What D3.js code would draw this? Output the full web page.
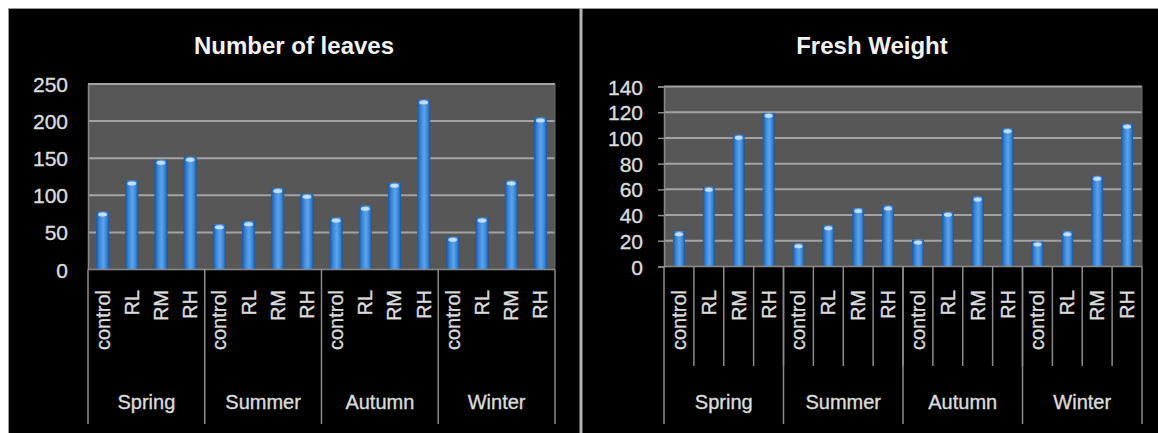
<!DOCTYPE html>
<html>
<head>
<meta charset="utf-8">
<script src="https://cdn.jsdelivr.net/npm/d3@7"></script>
<style>
  html, body { margin: 0; padding: 0; background: #fff; }
  svg { display: block; font-family: "Liberation Sans", Arial, sans-serif; }
</style>
</head>
<body>
<svg id="chart" width="1158" height="433"></svg>
<script>
// Categories: four seasons, four treatments each
const seasons = ["Spring", "Summer", "Autumn", "Winter"];
const treatments = ["control", "RL", "RM", "RH"];

// Number of leaves, in season order, treatment order within each season
const leavesValues = [78, 120, 148, 152, 61, 65, 110, 102, 70, 86, 117, 229, 44, 70, 120, 205];
const leavesTicks = [0, 50, 100, 150, 200, 250];

// Fresh weight, same ordering
const weightValues = [27.5, 62, 102.5, 119.5, 18, 32, 45.5, 47.5, 21, 42.5, 54.5, 107.5, 19.5, 27.5, 70.5, 111];
const weightTicks = [0, 20, 40, 60, 80, 100, 120, 140];

const svg = d3.select("#chart");
const labelColor = "#dcdcdc";

// Background panels
svg.append("rect").attr("x", 0).attr("y", 0).attr("width", 1158).attr("height", 433).attr("fill", "#fff");
svg.append("rect").attr("x", 8).attr("y", 8).attr("width", 1150).attr("height", 425).attr("fill", "#000");
svg.append("line").attr("x1", 8.5).attr("x2", 8.5).attr("y1", 8).attr("y2", 433).attr("stroke", "#9a9a9a");
svg.append("line").attr("x1", 8).attr("x2", 1158).attr("y1", 8.5).attr("y2", 8.5).attr("stroke", "#9a9a9a");
svg.append("line").attr("x1", 581).attr("x2", 581).attr("y1", 8).attr("y2", 433)
  .attr("stroke", "#b4b4b4").attr("stroke-width", 3);

// Cylinder-like shading for the columns
const defs = svg.append("defs");
const grad = defs.append("linearGradient").attr("id", "barGrad")
  .attr("x1", "0%").attr("x2", "100%").attr("y1", "0%").attr("y2", "0%");
[["0%", "#1c56a0"], ["30%", "#3f8ad9"], ["55%", "#5aa4ef"], ["80%", "#3a84d3"], ["100%", "#1b549c"]]
  .forEach(([o, c]) => grad.append("stop").attr("offset", o).attr("stop-color", c));

const categories = [];
seasons.forEach(s => treatments.forEach(t => categories.push(s + "|" + t)));

function styleLabel(sel, size) {
  sel.attr("fill", labelColor)
    .attr("stroke", labelColor).attr("stroke-width", 0.35)
    .attr("font-size", size)
    .attr("font-family", "'Liberation Sans', Arial, sans-serif");
}

function drawChart(opts) {
  const { title, titleX, values, ticks, left, right, top, bottom, barRatio, yTickSize, catTicks } = opts;
  const g = svg.append("g");

  const x = d3.scaleBand().domain(categories).range([left, right]).padding(0);
  const y = d3.scaleLinear().domain([ticks[0], ticks[ticks.length - 1]]).range([bottom, top]);

  // Title
  g.append("text")
    .attr("x", titleX).attr("y", 54)
    .attr("text-anchor", "middle")
    .attr("fill", "#f2f2f2")
    .attr("font-size", 24).attr("font-weight", "bold")
    .text(title);

  // Plot area
  g.append("rect")
    .attr("x", left).attr("y", top)
    .attr("width", right - left).attr("height", bottom - top)
    .attr("fill", "#575757");

  // Gridlines
  g.append("g").selectAll("line").data(ticks.slice(1)).join("line")
    .attr("x1", left).attr("x2", right)
    .attr("y1", d => y(d)).attr("y2", d => y(d))
    .attr("stroke", "#a3a3a3").attr("stroke-width", 2);

  // Right edge of plot area
  g.append("line").attr("x1", right).attr("x2", right).attr("y1", top).attr("y2", bottom)
    .attr("stroke", "#6a6a6a").attr("stroke-width", 1);

  // Y axis
  const yAxis = g.append("g")
    .attr("transform", `translate(${left},0)`)
    .call(d3.axisLeft(y).tickValues(ticks).tickSize(yTickSize).tickPadding(yTickSize ? 15 : 20).tickFormat(d3.format("d")));
  yAxis.select(".domain").attr("stroke", "#8a8a8a").attr("stroke-width", 1.5);
  yAxis.selectAll(".tick line").attr("stroke", "#8a8a8a").attr("stroke-width", 1.5);
  yAxis.selectAll("text").call(styleLabel, 21).attr("dy", "0.36em");

  // Bars
  const bw = x.bandwidth() * barRatio;
  const bars = g.append("g").selectAll("g").data(values).join("g");
  bars.append("rect")
    .attr("x", (d, i) => x(categories[i]) + (x.bandwidth() - bw) / 2)
    .attr("y", d => y(d))
    .attr("width", bw)
    .attr("height", d => y(0) - y(d))
    .attr("fill", "url(#barGrad)");
  bars.append("ellipse")
    .attr("cx", (d, i) => x(categories[i]) + x.bandwidth() / 2)
    .attr("cy", d => y(d) + 3)
    .attr("rx", bw * 0.34).attr("ry", 2)
    .attr("fill", "#d6eaff").attr("opacity", 0.85);

  // X axis line
  g.append("line").attr("x1", left).attr("x2", right).attr("y1", bottom).attr("y2", bottom)
    .attr("stroke", "#8a8a8a").attr("stroke-width", 1.5);

  // Category separators (per treatment)
  if (catTicks) {
    g.append("g").selectAll("line").data(categories.slice(1)).join("line")
      .attr("x1", d => x(d)).attr("x2", d => x(d))
      .attr("y1", bottom).attr("y2", 366)
      .attr("stroke", "#8a8a8a").attr("stroke-width", 1.5);
  }

  // Season separators
  const groupEdges = seasons.map(s => x(s + "|" + treatments[0])).concat([right]);
  g.append("g").selectAll("line").data(groupEdges).join("line")
    .attr("x1", d => d).attr("x2", d => d)
    .attr("y1", bottom).attr("y2", 424)
    .attr("stroke", "#8a8a8a").attr("stroke-width", 1.5);

  // Treatment labels, rotated
  g.append("g").selectAll("text").data(categories).join("text")
    .attr("transform", d => `translate(${x(d) + x.bandwidth() / 2},290) rotate(-90)`)
    .attr("text-anchor", "end")
    .attr("dy", "0.35em")
    .call(styleLabel, 20)
    .text(d => d.split("|")[1]);

  // Season labels
  g.append("g").selectAll("text").data(seasons).join("text")
    .attr("x", (s, i) => (groupEdges[i] + groupEdges[i + 1]) / 2)
    .attr("y", 409)
    .attr("text-anchor", "middle")
    .call(styleLabel, 20)
    .text(s => s);
}

drawChart({
  title: "Number of leaves", titleX: 294,
  values: leavesValues, ticks: leavesTicks,
  left: 88, right: 555, top: 84, bottom: 269.5,
  barRatio: 0.45, yTickSize: 0, catTicks: false
});

drawChart({
  title: "Fresh Weight", titleX: 872,
  values: weightValues, ticks: weightTicks,
  left: 664, right: 1142, top: 86.5, bottom: 266.5,
  barRatio: 0.4, yTickSize: 6, catTicks: true
});
</script>
</body>
</html>
